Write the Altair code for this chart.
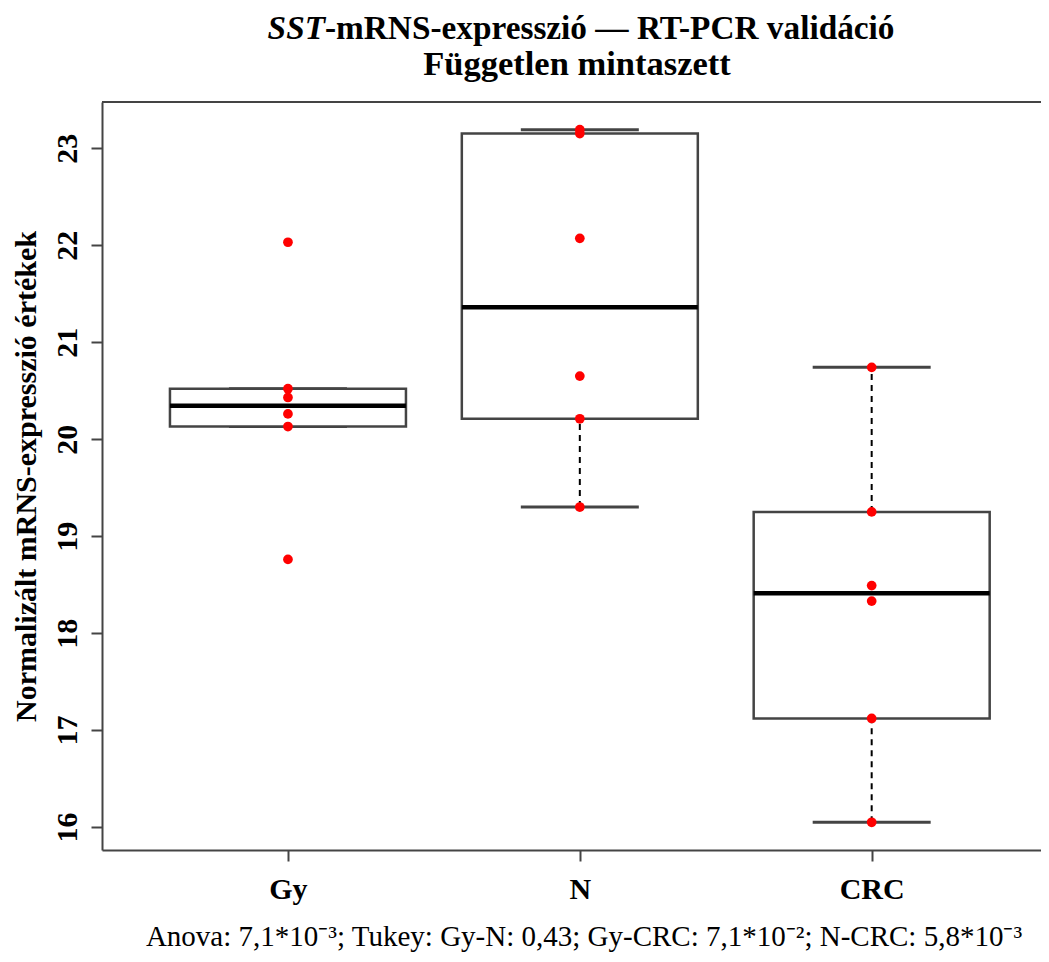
import json
import altair as alt
import numpy as np
import pandas as pd

# ---------------- data ----------------
categories = ["Gy", "N", "CRC"]
gy_values = [22.03, 20.52, 20.43, 20.26, 20.13, 18.76]
n_values = [23.19, 23.15, 22.07, 20.65, 20.21, 19.30]
crc_values = [20.74, 19.25, 18.49, 18.33, 17.12, 16.05]
y_ticks = [16, 17, 18, 19, 20, 21, 22, 23]
y_domain = [15.764, 23.476]
x_domain = [0.38, 3.563]

title_italic = "SST"
title_rest = "-mRNS-expresszió — RT-PCR validáció"
title_line2 = "Független mintaszett"
y_title = "Normalizált mRNS-expresszió értékek"
footer = "Anova: 7,1*10⁻³; Tukey: Gy-N: 0,43; Gy-CRC: 7,1*10⁻²; N-CRC: 5,8*10⁻³"

groups = [gy_values, n_values, crc_values]

# ---------------- layout ----------------
W, H = 939, 748
FONT = "Liberation Serif"
LINE = "#444444"


def box_stats(vals):
    """R boxplot.stats: Tukey hinges, whiskers at 1.5*IQR."""
    v = np.sort(np.asarray(vals, float))
    n = len(v)
    n4 = np.floor((n + 3) / 2) / 2
    d = np.array([1, n4, (n + 1) / 2, n + 1 - n4, n])
    fn = 0.5 * (v[np.floor(d).astype(int) - 1] + v[np.ceil(d).astype(int) - 1])
    iqr = fn[3] - fn[1]
    inside = v[(v >= fn[1] - 1.5 * iqr) & (v <= fn[3] + 1.5 * iqr)]
    return dict(lo=inside.min(), q1=fn[1], med=fn[2], q3=fn[3], hi=inside.max())


stats_rows, point_rows = [], []
for i, (cat, vals) in enumerate(zip(categories, groups), start=1):
    s = box_stats(vals)
    s.update(pos=i, cat=cat)
    stats_rows.append(s)
    for v in vals:
        point_rows.append(dict(pos=i, cat=cat, value=v))
stats = pd.DataFrame(stats_rows)
points = pd.DataFrame(point_rows)
one = pd.DataFrame({"k": [0]})

label_expr = json.dumps(categories) + "[datum.value - 1]"

x_enc = alt.X(
    "pos:Q",
    scale=alt.Scale(domain=x_domain, nice=False, zero=False),
    axis=alt.Axis(
        values=[1, 2, 3], labelExpr=label_expr, title=None,
        labelFont=FONT, labelFontSize=30, labelFontWeight="bold",
        labelColor="black", labelPadding=13, labelBaseline="top",
    ),
)
y_scale = alt.Scale(domain=y_domain, nice=False, zero=False)
y_axis = alt.Axis(
    values=y_ticks, format="d", labelAngle=270, labelAlign="center",
    labelBaseline="alphabetic", labelFont=FONT, labelFontSize=30,
    labelFontWeight="bold", labelColor="black", labelPadding=15,
    title=y_title, titleFont=FONT, titleFontSize=30, titleFontWeight="bold",
    titleColor="black", titleAngle=270, titleAlign="center",
    titleBaseline="alphabetic", titleX=-67, titleY=H / 2,
)

base = alt.Chart(stats)

whisk_lo = base.mark_rule(color="black", strokeWidth=2, strokeDash=[6, 5]).encode(
    x=x_enc, y=alt.Y("lo:Q", scale=y_scale, axis=y_axis), y2="q1:Q")
whisk_hi = base.mark_rule(color="black", strokeWidth=2, strokeDash=[6, 5]).encode(
    x="pos:Q", y="q3:Q", y2="hi:Q")
staple_lo = base.mark_tick(orient="horizontal", size=118, thickness=3, color=LINE,
                           opacity=1).encode(x="pos:Q", y="lo:Q")
staple_hi = base.mark_tick(orient="horizontal", size=118, thickness=3, color=LINE,
                           opacity=1).encode(x="pos:Q", y="hi:Q")
box = base.mark_bar(size=236, fill="white", stroke=LINE, strokeWidth=2.5,
                    opacity=1).encode(x="pos:Q", y="q1:Q", y2="q3:Q")
median = base.mark_tick(orient="horizontal", size=236, thickness=4.5, color="black",
                        opacity=1).encode(x="pos:Q", y="med:Q")
pts = alt.Chart(points).mark_circle(color="#ff0000", size=95, opacity=1).encode(
    x="pos:Q", y="value:Q")

top_frame = alt.Chart(one).mark_rule(color=LINE, strokeWidth=2).encode(
    x=alt.value(0), x2=alt.value(W), y=alt.value(0))

t_italic = alt.Chart(one).mark_text(
    font=FONT, fontSize=33.3, fontWeight="bold", fontStyle="italic",
    align="right", baseline="alphabetic", color="black",
).encode(x=alt.value(223), y=alt.value(-63), text=alt.value(title_italic))
t_rest = alt.Chart(one).mark_text(
    font=FONT, fontSize=33.3, fontWeight="bold", align="left",
    baseline="alphabetic", color="black",
).encode(x=alt.value(223), y=alt.value(-63), text=alt.value(title_rest))
t_line2 = alt.Chart(one).mark_text(
    font=FONT, fontSize=34.5, fontWeight="bold", align="center",
    baseline="alphabetic", color="black",
).encode(x=alt.value(475), y=alt.value(-27), text=alt.value(title_line2))
t_footer = alt.Chart(one).mark_text(
    font=FONT, fontSize=29, align="center", baseline="alphabetic", color="black",
).encode(x=alt.value(482), y=alt.value(844), text=alt.value(footer))

chart = alt.layer(
    whisk_lo, whisk_hi, staple_lo, staple_hi, box, median, pts,
    top_frame, t_italic, t_rest, t_line2, t_footer,
).properties(
    width=W, height=H,
    autosize=alt.AutoSizeParams(type="none"),
    padding={"left": 94, "top": 94, "right": 0, "bottom": 103},
    background="white",
).configure_view(stroke=None).configure_axis(
    grid=False, domainColor=LINE, domainWidth=2, tickColor=LINE,
    tickWidth=2, tickSize=11,
)

chart.save("out.html", embed_options={"renderer": "svg", "actions": False})
